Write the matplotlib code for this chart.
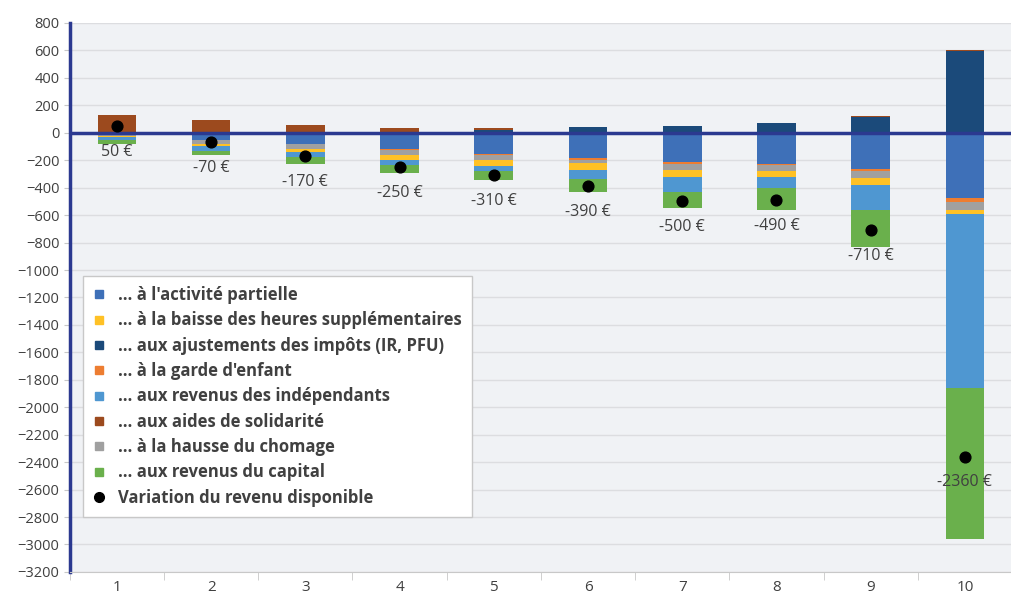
import numpy as np
import matplotlib
matplotlib.use("Agg")
import matplotlib.pyplot as plt
from matplotlib.lines import Line2D

plt.rcParams["font.family"] = ["Open Sans", "DejaVu Sans"]

categories = ["1", "2", "3", "4", "5", "6", "7", "8", "9", "10"]

activite_partielle = [-10, -55, -85, -120, -155, -185, -215, -225, -265, -475]
heures_sup = [-10, -20, -25, -35, -45, -50, -50, -50, -50, -35]
impots = [0, 0, 0, 0, 20, 40, 50, 70, 115, 595]
garde_enfant = [0, 0, 0, -5, -5, -10, -15, -10, -15, -30]
independants = [-25, -30, -40, -40, -40, -65, -115, -80, -185, -1265]
aides_solidarite = [130, 95, 60, 35, 15, 0, 0, 0, 5, 5]
chomage = [-10, -25, -30, -35, -35, -25, -40, -40, -50, -55]
capital = [-25, -35, -50, -55, -65, -95, -115, -155, -265, -1100]
variation = [50, -70, -170, -250, -310, -390, -500, -490, -710, -2360]

series = [
    ("… à l'activité partielle", activite_partielle, "#3e70b8"),
    ("… à la baisse des heures supplémentaires", heures_sup, "#ffc125"),
    ("… aux ajustements des impôts (IR, PFU)", impots, "#1b4a7a"),
    ("… à la garde d'enfant", garde_enfant, "#ed7d31"),
    ("… aux revenus des indépendants", independants, "#4f97d1"),
    ("… aux aides de solidarité", aides_solidarite, "#9c4a1e"),
    ("… à la hausse du chomage", chomage, "#a0a0a0"),
    ("… aux revenus du capital", capital, "#6ab04c"),
]
# order in which the segments are piled from zero outwards
stack_order = [2, 5, 0, 3, 6, 1, 4, 7]

fig = plt.figure(figsize=(10.12, 5.97), dpi=100)
ax = fig.add_axes([0.069, 0.042, 0.931, 0.9195])
ax.set_facecolor("#f0f2f5")

x = np.arange(1, len(categories) + 1)
pos_bottom = np.zeros(len(x))
neg_bottom = np.zeros(len(x))
for i in stack_order:
    label, vals, color = series[i]
    vals = np.array(vals, dtype=float)
    bottom = np.where(vals >= 0, pos_bottom, neg_bottom)
    ax.bar(x, vals, 0.41, bottom=bottom, color=color, zorder=2,
           edgecolor="none")
    pos_bottom += np.clip(vals, 0, None)
    neg_bottom += np.clip(vals, None, 0)

ax.scatter(x, variation, s=60, color="black", zorder=4)
for xi, v in zip(x, variation):
    ax.annotate(f"{v} €", (xi, v), xytext=(0, -18.5), textcoords="offset points",
                ha="center", va="center", fontsize=11.5, color="#404040",
                zorder=5)

ax.axhline(0, color="#2b3990", lw=2.5, zorder=3)
ax.set_xlim(0.5, 10.5)
ax.set_ylim(-3200, 800)
ax.set_yticks(np.arange(-3200, 801, 200))
ax.set_xticks(x)
ax.set_xticklabels(categories)
ax.set_xticks(np.arange(0.5, 11, 1), minor=True)
ax.tick_params(axis="x", which="major", length=0, labelsize=11,
               labelcolor="#404040", pad=6)
ax.tick_params(axis="x", which="minor", length=6, color="#c8c8c8")
ax.tick_params(axis="y", length=4, color="#c8c8c8", labelsize=10.5,
               labelcolor="#404040")
ax.grid(axis="y", color="#dcdde0", lw=1, zorder=0)

for side in ["top", "right"]:
    ax.spines[side].set_visible(False)
ax.spines["bottom"].set_color("#c8c8c8")
ax.spines["left"].set_color("#2b3990")
ax.spines["left"].set_linewidth(2.5)

handles = [Line2D([], [], marker="s", ls="none", color=c, markersize=6)
           for _, _, c in series]
handles.append(Line2D([], [], marker="o", ls="none", color="black",
                      markersize=7))
labels = [s[0] for s in series] + ["Variation du revenu disponible"]
leg = ax.legend(handles, labels, loc="upper left",
                bbox_to_anchor=(0.0138, 0.539), frameon=True, fancybox=False,
                framealpha=1, edgecolor="#c8c8c8", handlelength=0.8,
                handletextpad=0.7, labelspacing=0.44, borderpad=0.6,
                borderaxespad=0,
                prop={"size": 12, "weight": "bold"})
for t in leg.get_texts():
    t.set_color("#404040")
leg.set_zorder(6)

fig.savefig("out.png", dpi=100, facecolor="white")
